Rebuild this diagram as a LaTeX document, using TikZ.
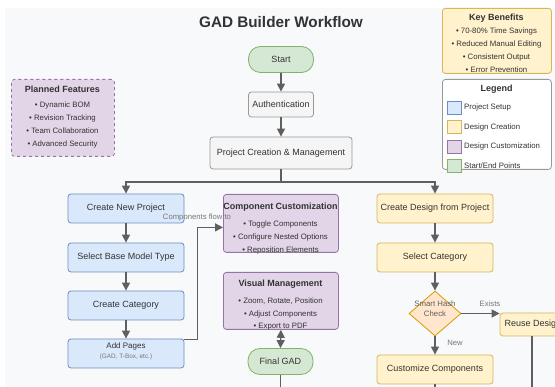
\documentclass[tikz,border=0pt]{standalone}
\usepackage{fontspec}
\setmainfont{Liberation Sans}
\usetikzlibrary{arrows.meta,shapes.geometric}
\definecolor{bgc}{HTML}{F8F9FA}
\definecolor{txt}{HTML}{333333}
\definecolor{arrc}{HTML}{5F5F5F}
\definecolor{lblc}{HTML}{777777}
\definecolor{bluef}{HTML}{DAE8FC}
\definecolor{blued}{HTML}{6C8EBF}
\definecolor{yelf}{HTML}{FFF2CC}
\definecolor{yeld}{HTML}{D6B656}
\definecolor{purf}{HTML}{E1D5E7}
\definecolor{purd}{HTML}{9673A6}
\definecolor{grnf}{HTML}{D5E8D4}
\definecolor{grnd}{HTML}{82B366}
\definecolor{grayf}{HTML}{F5F5F5}
\definecolor{grayd}{HTML}{999999}
\definecolor{orf}{HTML}{FFE6CC}
\definecolor{ord}{HTML}{D79B00}
\tikzset{
  base/.style={draw, rounded corners=3pt, line width=0.8pt, inner sep=0pt, text=txt, font=\fontsize{9}{11}\selectfont},
  setupbox/.style={base, fill=bluef, draw=blued, minimum width=116pt, minimum height=29pt},
  designbox/.style={base, fill=yelf, draw=yeld, minimum width=116pt, minimum height=29pt},
  custbox/.style={base, fill=purf, draw=purd, minimum width=115pt, anchor=north west},
  endbox/.style={base, fill=grnf, draw=grnd, rounded corners=12pt, minimum width=65pt, minimum height=26pt},
  graybox/.style={base, fill=grayf, draw=grayd},
  swatch/.style={draw, line width=0.6pt, minimum width=14pt, minimum height=13pt, inner sep=0pt},
  arr/.style={draw=arrc, line width=1.3pt, -{Triangle[length=8pt,width=8pt]}},
  plainline/.style={draw=arrc, line width=1.3pt},
  lbl/.style={font=\fontsize{7.7}{9}\selectfont, text=lblc, inner sep=0pt},
  bul/.style={font=\fontsize{7.8}{9}\selectfont, text=txt, inner sep=0pt},
  ttl/.style={font=\bfseries\fontsize{9}{11}\selectfont, text=txt, inner sep=0pt},
}
\begin{document}
\begin{tikzpicture}[x=1pt,y=-1pt]
\useasboundingbox (0,0) rectangle (555,387);
\clip (0,0) rectangle (555,387);
\fill[bgc] (5,8) rectangle (560,392);

% title
\node[font=\bfseries\fontsize{15.3}{18}\selectfont, text=txt, inner sep=0pt] (title) at (281,22) {GAD Builder Workflow};

% key benefits
\node[base, fill=yelf, draw=yeld, minimum width=109pt, minimum height=65pt, anchor=north west] (kb) at (442,8) {};
\node[ttl] (kbt) at (496.5,18) {Key Benefits};
\node[bul] (kb1) at (496.5,31) {• 70-80\% Time Savings};
\node[bul] (kb2) at (496.5,44) {• Reduced Manual Editing};
\node[bul] (kb3) at (496.5,57) {• Consistent Output};
\node[bul] (kb4) at (496.5,70) {• Error Prevention};

% legend
\node[base, fill=white, draw=grayd, minimum width=109pt, minimum height=90pt, anchor=north west] (lg) at (442,79) {};
\node[ttl] (lgt) at (496.5,89) {Legend};
\node[swatch, fill=bluef, draw=blued] (s1) at (454,107.5) {};
\node[swatch, fill=yelf, draw=yeld] (s2) at (454,127) {};
\node[swatch, fill=purf, draw=purd] (s3) at (454,146.5) {};
\node[swatch, fill=grnf, draw=grnd] (s4) at (454,166) {};
\node[bul, anchor=west] (l1) at (464,107.5) {Project Setup};
\node[bul, anchor=west] (l2) at (464,127) {Design Creation};
\node[bul, anchor=west] (l3) at (464,146.5) {Design Customization};
\node[bul, anchor=west] (l4) at (464,166) {Start/End Points};

% planned features
\node[base, fill=purf, draw=purd, dashed, minimum width=103pt, minimum height=77pt, anchor=north west] (pf) at (11,79) {};
\node[ttl] (pft) at (62.5,89) {Planned Features};
\node[bul] (pf1) at (62.5,105) {• Dynamic BOM};
\node[bul] (pf2) at (62.5,118) {• Revision Tracking};
\node[bul] (pf3) at (62.5,131) {• Team Collaboration};
\node[bul] (pf4) at (62.5,144) {• Advanced Security};

% main flow
\node[endbox] (start) at (281,59.5) {Start};
\node[graybox, minimum width=65pt, minimum height=25pt] (auth) at (281,104.5) {Authentication};
\node[graybox, minimum width=142pt, minimum height=32pt] (pcm) at (281,153) {Project Creation \& Management};

% left column
\node[setupbox] (cnp) at (126,208.5) {Create New Project};
\node[setupbox] (sbm) at (126,257.5) {Select Base Model Type};
\node[setupbox] (ccat) at (126,305.5) {Create Category};
\node[setupbox] (ap) at (126,353.5) {};
\node[font=\fontsize{8}{10}\selectfont, text=txt, inner sep=0pt] (apt) at (126,346) {Add Pages};
\node[font=\fontsize{6.4}{8}\selectfont, text=lblc, inner sep=0pt] (aps) at (126,356.5) {(GAD, T-Box, etc.)};

% middle column
\node[custbox, minimum height=58pt] (cust) at (223,194) {};
\node[ttl] (custt) at (280.5,207) {Component Customization};
\node[bul] (cu1) at (280.5,224) {• Toggle Components};
\node[bul] (cu2) at (280.5,237) {• Configure Nested Options};
\node[bul] (cu3) at (280.5,250) {• Reposition Elements};

\node[custbox, minimum height=57pt] (vm) at (223,272) {};
\node[ttl] (vmt) at (280.5,284) {Visual Management};
\node[bul] (vm1) at (280.5,301) {• Zoom, Rotate, Position};
\node[bul] (vm2) at (280.5,314) {• Adjust Components};
\node[bul] (vm3) at (280.5,327) {• Export to PDF};

\node[endbox] (final) at (280.5,361.5) {Final GAD};

% right column
\node[designbox] (cdp) at (435,208.5) {Create Design from Project};
\node[designbox] (scat) at (435,257.5) {Select Category};
\node[diamond, draw=ord, fill=orf, line width=0.8pt, minimum width=52pt, minimum height=45pt, inner sep=0pt] (hash) at (435,313.5) {};
\node[font=\fontsize{7.8}{10}\selectfont, text=lblc!80!black, inner sep=0pt, align=center] (hasht) at (435,309) {Smart Hash\\Check};
\node[base, fill=yelf, draw=yeld, minimum width=66pt, minimum height=23pt] (reuse) at (533,324.5) {Reuse Design};
\node[designbox] (custc) at (435,369.5) {Customize Components};

% off-picture ends
\coordinate (endm) at (280.5,398);
\coordinate (endr) at (435,398);
\coordinate (endx) at (532,398);
\coordinate (j) at (281,182);

% connectors
\draw[arr] (start) -- (auth);
\draw[arr] (auth) -- (pcm);
\draw[plainline] (pcm.south) -- (j);
\draw[arr] (j) -| (cnp.north);
\draw[arr] (j) -| (cdp.north);
\draw[arr] (cnp) -- (sbm);
\draw[arr] (sbm) -- (ccat);
\draw[arr] (ccat) -- (ap);
\draw[arr] ([yshift=-1pt]ap.north east) -- ++(13,0) |- ([yshift=-4pt]cust.west);
\node[lbl] (flow) at (197,218) {Components flow to};
\draw[arr, {Triangle[length=8pt,width=8pt]}-{Triangle[length=8pt,width=8pt]}] (vm.south) -- (final.north);
\draw[plainline] (final.south) -- (endm);
\draw[arr] (cdp) -- (scat);
\draw[arr] (scat) -- (hash);
\draw[arr] (hash.east) -- (hash.east -| reuse.west);
\node[lbl] (exists) at (490,304) {Exists};
\draw[arr] (hash) -- (custc);
\node[lbl] (new) at (455,343) {New};
\draw[plainline] (custc.south) -- (endr);
\draw[plainline] (reuse.south -| endx) -- (endx);
\end{tikzpicture}
\end{document}
